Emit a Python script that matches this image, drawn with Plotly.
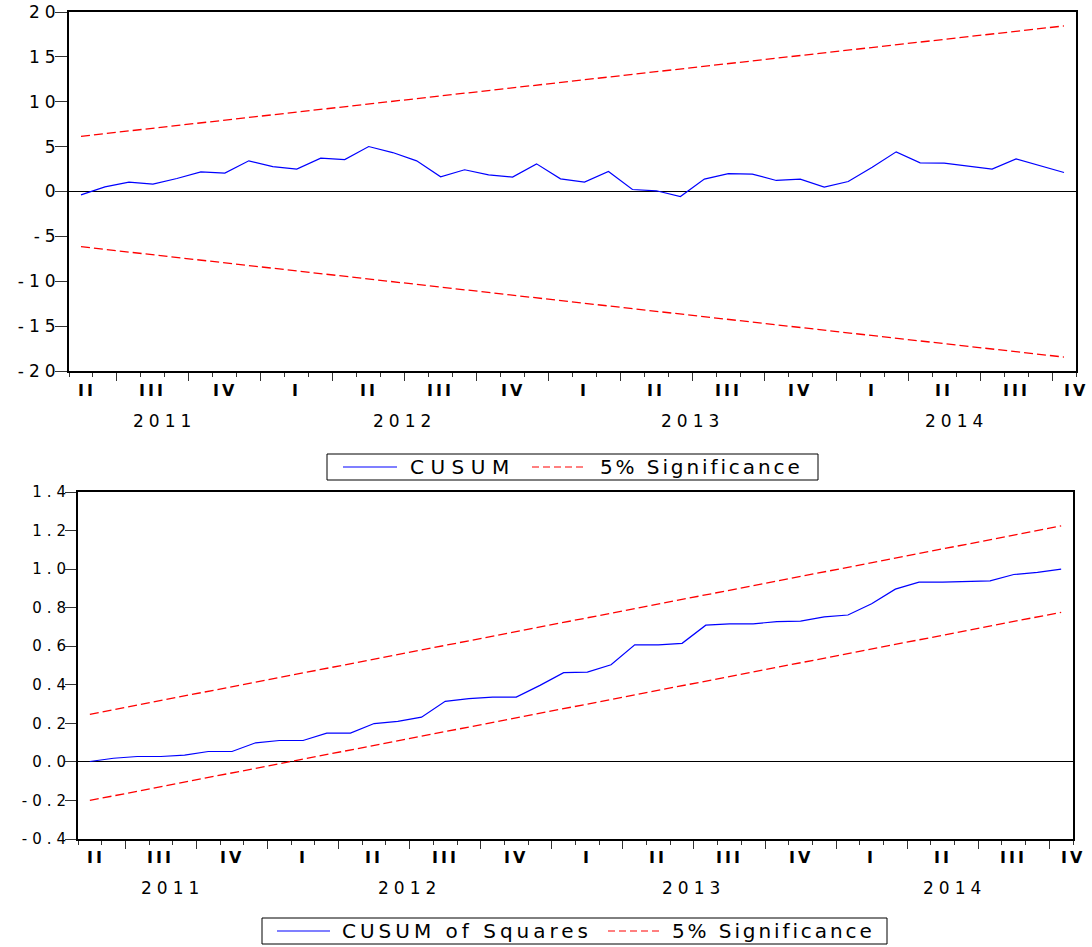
import pandas as pd
import plotly.graph_objects as go

W, H = 1092, 947

# Monthly recursive-residual sample
months = pd.period_range("2011-05", "2014-10", freq="M")

cusum = [-0.37, 0.52, 1.04, 0.82, 1.45, 2.19, 2.05, 3.42, 2.78, 2.49,
         3.72, 3.56, 5.01, 4.34, 3.42, 1.64, 2.42, 1.86, 1.60, 3.08,
         1.41, 1.04, 2.23, 0.22, 0.08, -0.56, 1.38, 2.00, 1.94, 1.23,
         1.38, 0.49, 1.11, 2.71, 4.42, 3.20, 3.16, 2.79, 2.49, 3.64,
         2.90, 2.12]

cusum_sq = [0.002, 0.019, 0.028, 0.028, 0.035, 0.054, 0.054, 0.099, 0.111, 0.111,
            0.149, 0.149, 0.199, 0.210, 0.232, 0.314, 0.328, 0.336, 0.336, 0.397,
            0.463, 0.466, 0.504, 0.607, 0.607, 0.615, 0.709, 0.716, 0.716, 0.728,
            0.730, 0.752, 0.762, 0.820, 0.896, 0.932, 0.932, 0.934, 0.939, 0.972,
            0.983, 1.000]

# 5% significance bounds at the first and last observation
cusum_upper = [6.15, 18.45]
cusum_lower = [-6.15, -18.45]
cusumsq_upper = [0.247, 1.224]
cusumsq_lower = [-0.200, 0.776]

cusum_yticks = [20, 15, 10, 5, 0, -5, -10, -15, -20]
cusum_yticklabels = ["20", "15", "10", "5", "0", "-5", "-10", "-15", "-20"]
cusumsq_yticks = [1.4, 1.2, 1.0, 0.8, 0.6, 0.4, 0.2, 0.0, -0.2, -0.4]
cusumsq_yticklabels = ["1.4", "1.2", "1.0", "0.8", "0.6", "0.4", "0.2", "0.0", "-0.2", "-0.4"]

roman = {1: "I", 2: "II", 3: "III", 4: "IV"}

BLUE = "#0000FF"
RED = "#FF0000"
FONT = "DejaVu Sans"


def fx(px):
    return px / W


def fy(py):
    return 1 - py / H


def spaced(text, px):
    return f'<span style="letter-spacing:{px}px">{text}</span>'


n = len(months)
xpos = [i + 0.5 for i in range(n)]
ends = [xpos[0], xpos[-1]]

# quarter boundaries (major ticks) and label positions
quarter_starts = [i for i, m in enumerate(months) if m.month in (1, 4, 7, 10)]
quarters = []
for i, m in enumerate(months):
    key = (m.year, m.quarter)
    if not quarters or quarters[-1][0] != key:
        quarters.append([key, i, i + 1, (m.month - 1) % 3])
    else:
        quarters[-1][2] = i + 1
quarter_labels = []
for (yr, q), s, e, off in quarters:
    visible_mid = (s + e) / 2
    full_mid = s - off + 1.5
    quarter_labels.append(((visible_mid + full_mid) / 2, roman[q]))

years = []
for i, m in enumerate(months):
    if not years or years[-1][0] != m.year:
        years.append([m.year, i, i + 1])
    else:
        years[-1][2] = i + 1
year_labels = [((s + e) / 2, str(y)) for y, s, e in years]

fig = go.Figure()

# CUSUM panel
fig.add_trace(go.Scatter(x=xpos, y=cusum, mode="lines", name="CUSUM",
                         line=dict(color=BLUE, width=1.2), xaxis="x", yaxis="y"))
for band in (cusum_upper, cusum_lower):
    fig.add_trace(go.Scatter(x=ends, y=band, mode="lines", name="5% Significance",
                             line=dict(color=RED, width=1.3, dash="9px,4px"),
                             xaxis="x", yaxis="y"))

# CUSUM of squares panel
fig.add_trace(go.Scatter(x=xpos, y=cusum_sq, mode="lines", name="CUSUM of Squares",
                         line=dict(color=BLUE, width=1.2), xaxis="x2", yaxis="y2"))
for band in (cusumsq_upper, cusumsq_lower):
    fig.add_trace(go.Scatter(x=ends, y=band, mode="lines", name="5% Significance",
                             line=dict(color=RED, width=1.3, dash="9px,4px"),
                             xaxis="x2", yaxis="y2"))

tick_color = "#333333"


def xaxis_style(left, right, anchor):
    return dict(
        domain=[fx(left), fx(right)], range=[0, n], anchor=anchor,
        tickmode="array", tickvals=quarter_starts, showticklabels=False,
        ticks="outside", ticklen=8, tickwidth=1, tickcolor=tick_color,
        minor=dict(tickmode="linear", tick0=0, dtick=1, ticks="outside",
                   ticklen=4, tickwidth=1, tickcolor=tick_color),
        showline=True, mirror=True, linecolor="black", linewidth=2,
        showgrid=False, zeroline=False, fixedrange=True, automargin=False,
    )


def yaxis_style(top, bottom, anchor, rng, vals, labels, size, ls, ticklen, standoff):
    return dict(
        domain=[fy(bottom), fy(top)], range=rng, anchor=anchor,
        tickmode="array", tickvals=vals, ticktext=[spaced(t, ls) for t in labels],
        ticks="outside", ticklen=ticklen, tickwidth=1, tickcolor=tick_color,
        tickfont=dict(family=FONT, size=size, color="black"),
        ticklabelstandoff=standoff,
        showline=True, mirror=True, linecolor="black", linewidth=2,
        showgrid=False, zeroline=True, zerolinecolor="black", zerolinewidth=1,
        fixedrange=True, automargin=False,
    )


annotations = []
shapes = []


def axis_labels(xref, q_y, yr_y):
    for x, lab in quarter_labels:
        annotations.append(dict(x=x, y=fy(q_y), xref=xref, yref="paper",
                                text=spaced(lab, 3), showarrow=False,
                                xanchor="center", yanchor="middle",
                                font=dict(family=FONT, size=16, color="black", weight="bold")))
    for x, lab in year_labels:
        annotations.append(dict(x=x, y=fy(yr_y), xref=xref, yref="paper",
                                text=spaced(lab, 5), showarrow=False,
                                xanchor="center", yanchor="middle",
                                font=dict(family=FONT, size=17, color="black")))


def legend_box(x0, x1, y0, y1, items):
    shapes.append(dict(type="rect", xref="paper", yref="paper",
                       x0=fx(x0), x1=fx(x1), y0=fy(y1), y1=fy(y0),
                       line=dict(color="black", width=1), fillcolor="white"))
    yc = (y0 + y1) / 2
    for sx0, sx1, color, dash, tx, label, ls in items:
        shapes.append(dict(type="line", xref="paper", yref="paper",
                           x0=fx(sx0), x1=fx(sx1), y0=fy(yc), y1=fy(yc),
                           line=dict(color=color, width=1.2, dash=dash)))
        annotations.append(dict(x=fx(tx), y=fy(yc), xref="paper", yref="paper",
                                text=spaced(label, ls), showarrow=False,
                                xanchor="left", yanchor="middle",
                                font=dict(family=FONT, size=20, color="black")))


axis_labels("x", 390.5, 421)
axis_labels("x2", 857.5, 887.5)

legend_box(327, 818, 454, 480, [
    (343, 397, BLUE, "solid", 408, "CUSUM", 6.5),
    (532, 587, RED, "7px,4px", 598, "5% Significance", 2.9),
])
legend_box(262, 887, 918, 944, [
    (277, 330, BLUE, "solid", 340, "CUSUM of Squares", 4.0),
    (608, 661, RED, "7px,4px", 670, "5% Significance", 2.9),
])

fig.update_layout(
    width=W, height=H,
    margin=dict(l=0, r=0, t=0, b=0, autoexpand=False),
    paper_bgcolor="white", plot_bgcolor="white",
    showlegend=False,
    xaxis=xaxis_style(69, 1076, "y"),
    yaxis=yaxis_style(12, 371, "x", [-20, 20], cusum_yticks, cusum_yticklabels, 17, 5, 12, -9),
    xaxis2=xaxis_style(78, 1073, "y2"),
    yaxis2=yaxis_style(492, 839, "x2", [-0.4, 1.4], cusumsq_yticks, cusumsq_yticklabels, 15, 5, 11, -9),
    annotations=annotations,
    shapes=shapes,
)

fig.write_html("out.html")
